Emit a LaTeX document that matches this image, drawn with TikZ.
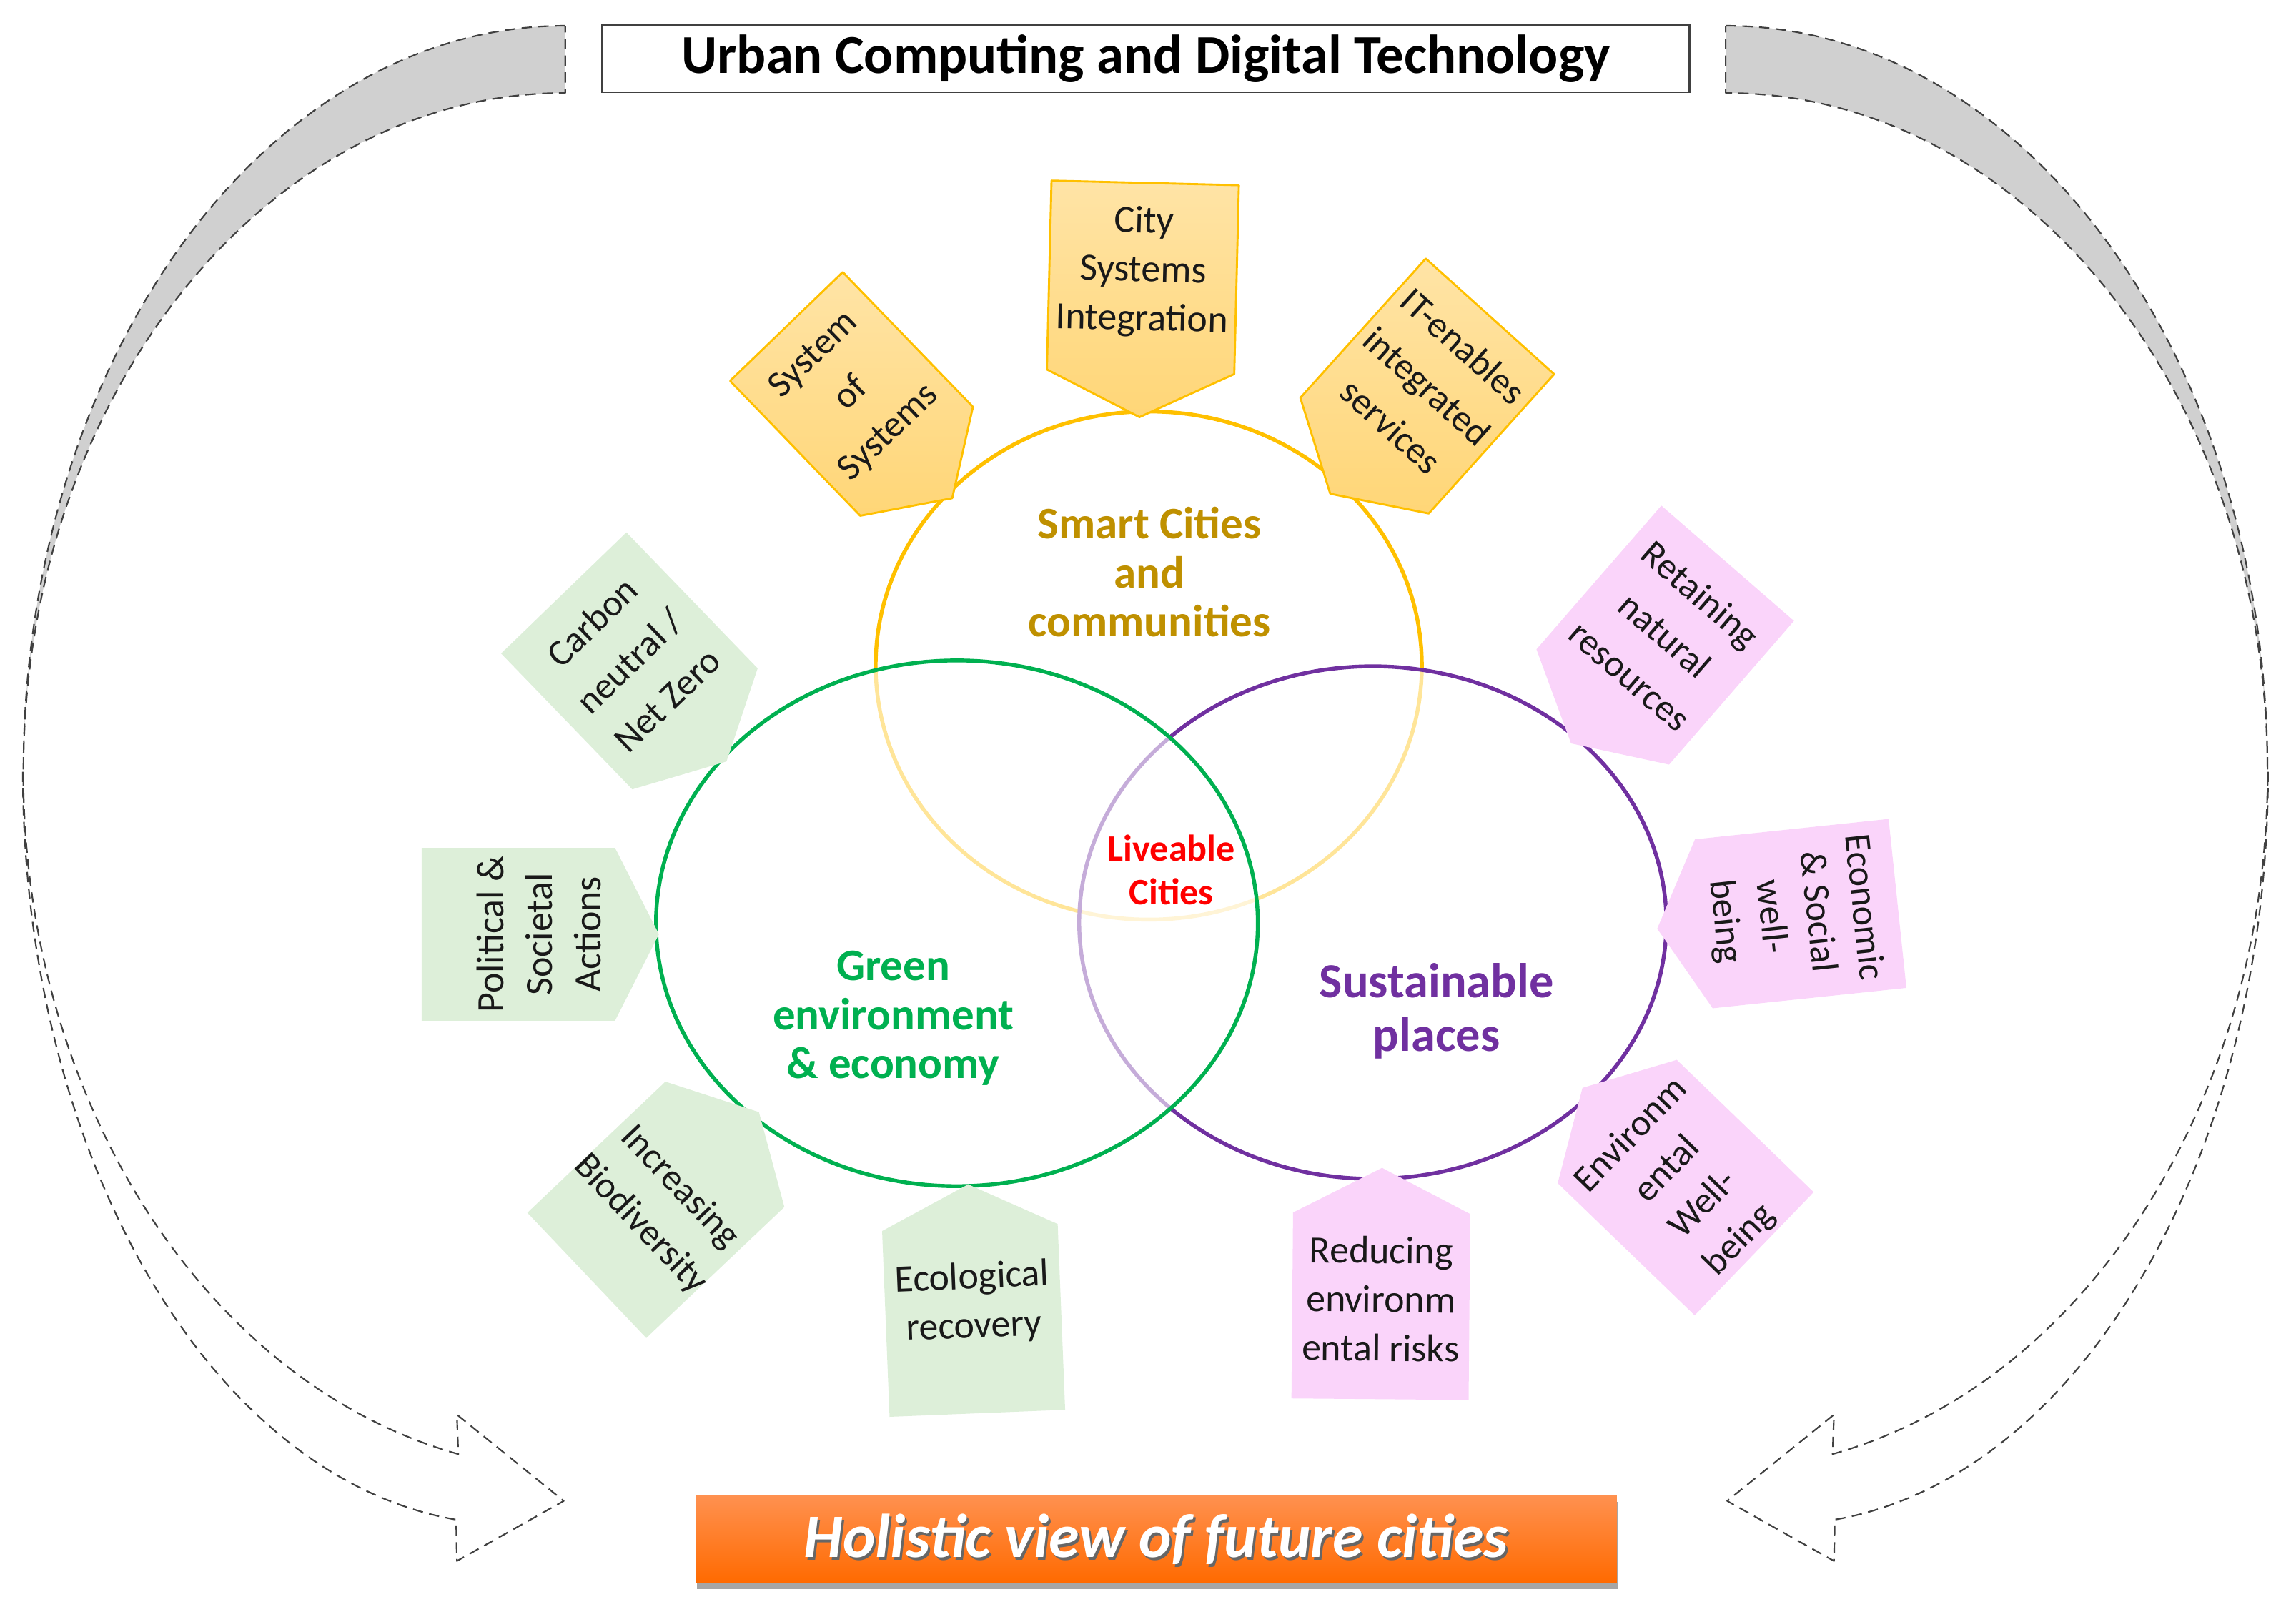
\documentclass[tikz,border=0pt]{standalone}
\usepackage{fontspec}
\setmainfont{Carlito}
\usetikzlibrary{shadows}

\definecolor{smartc}{HTML}{FFC000}
\definecolor{smartt}{HTML}{BF9000}
\definecolor{greenc}{HTML}{00B050}
\definecolor{purplec}{HTML}{7030A0}
\definecolor{ytagtop}{HTML}{FFE4A6}
\definecolor{ytagf}{HTML}{FFD677}
\definecolor{gtagf}{HTML}{DDEFD9}
\definecolor{ptagf}{HTML}{FAD4FA}
\definecolor{bandgrey}{HTML}{D0D0D0}
\definecolor{orangetop}{HTML}{FF9150}
\definecolor{orangebot}{HTML}{FF6A00}

\begin{document}
\begin{tikzpicture}[x=0.02cm, y=-0.02cm,
	band/.style = {draw=black!75, line width=0.6pt, dash pattern=on 4pt off 2.5pt, line join=round},
	ring/.style = {line width=1.5pt},
	ytag/.style = {top color=ytagtop, bottom color=ytagf, draw=smartc, line width=0.8pt, line join=round},
	gtag/.style = {fill=gtagf},
	ptag/.style = {fill=ptagf},
	tx/.style = {align=center, inner sep=0pt, text=black!90, transform shape, font=\fontsize{15}{19}\selectfont},
	txr/.style = {tx, font=\fontsize{14.5}{21}\selectfont},
	ct/.style = {align=center, inner sep=0pt, font=\bfseries\fontsize{17.5}{19}\selectfont},
	title/.style = {draw=black!75, line width=0.8pt, fill=white, minimum width=14.86cm, minimum height=0.92cm, font=\bfseries\fontsize{21.3}{25}\selectfont},
	holi/.style = {top color=orangetop, bottom color=orangebot, minimum width=12.58cm, minimum height=1.2cm, drop shadow={shadow xshift=0.5pt, shadow yshift=-2.5pt, opacity=0.35, fill=black}}
	]

	\useasboundingbox (0,0) rectangle (1568,1097);

	%Curved arrows
	\path[band, fill=bandgrey] (386,17.6) arc[start angle=270, end angle=180, x radius=370, y radius=509.4]
		arc[start angle=180, end angle=270, x radius=370, y radius=463.5] -- cycle;
	\path[band, fill=white] (15.6,527) arc[start angle=180, end angle=96.4, x radius=333, y radius=514]
		-- (312,1066) -- (385,1025) -- (312,966) -- (313,993)
		arc[start angle=102.6, end angle=180, x radius=380, y radius=478] -- cycle;
	\begin{scope}[shift={(1564.5,0)}, xscale=-1]
		\path[band, fill=bandgrey] (386,17.6) arc[start angle=270, end angle=180, x radius=370, y radius=509.4]
			arc[start angle=180, end angle=270, x radius=370, y radius=463.5] -- cycle;
		\path[band, fill=white] (15.6,527) arc[start angle=180, end angle=96.4, x radius=333, y radius=514]
			-- (312,1066) -- (385,1025) -- (312,966) -- (313,993)
			arc[start angle=102.6, end angle=180, x radius=380, y radius=478] -- cycle;
	\end{scope}

	\node[title]	(title)		at	(782.5,40)	{Urban Computing and Digital Technology};

	%Circles
	\draw[smartc, ring]	(784.5,454.5) ellipse [x radius=186.5, y radius=173.5];
	\draw[purplec, ring, fill=white, fill opacity=0.6]	(937.5,630) ellipse [x radius=200.5, y radius=175];
	\draw[greenc, ring, fill=white, fill opacity=0.6]	(653.5,630.5) ellipse [x radius=205.5, y radius=179.5];

	%Tags
	\begin{scope}[shift={(780.5,189.4)}, rotate=-1.4]
		\filldraw[ytag] (-64,-64.5) -- (64,-64.5) -- (64,64.5) -- (0,95.5) -- (-64,64.5) -- cycle;
		\node[tx]	(csi)	at	(0,-4)	{City\\Systems\\Integration};
	\end{scope}
	\begin{scope}[shift={(581.5,269)}, rotate=44]
		\filldraw[ytag] (-53.5,-64) -- (53.5,-64) -- (53.5,64) -- (0,99) -- (-53.5,64) -- cycle;
		\node[txr]	(sos)	at	(0,0)	{System\\of\\Systems};
	\end{scope}
	\begin{scope}[shift={(974.7,263.6)}, rotate=-42]
		\filldraw[ytag] (-59,-64) -- (59,-64) -- (59,64) -- (0,99) -- (-59,64) -- cycle;
		\node[txr]	(ite)	at	(0,0)	{IT-enables\\integrated\\services};
	\end{scope}
	\begin{scope}[shift={(429.8,451.3)}, rotate=44]
		\fill[gtag] (-59.5,-64.5) -- (59.5,-64.5) -- (59.5,64.5) -- (0,95.5) -- (-59.5,64.5) -- cycle;
		\node[txr]	(cnz)	at	(0,0)	{Carbon\\neutral /\\Net Zero};
	\end{scope}
	\begin{scope}[shift={(354,638)}, rotate=90]
		\fill[gtag] (-59,-66) -- (59,-66) -- (59,66) -- (0,96) -- (-59,66) -- cycle;
		\node[tx]	(psa)	at	(0,14)	{Political \&\\Societal\\Actions};
	\end{scope}
	\begin{scope}[shift={(447.9,826.2)}, rotate=-46.5]
		\fill[gtag] (-59,65) -- (59,65) -- (59,-65) -- (0,-97) -- (-59,-65) -- cycle;
		\node[txr]	(ib)	at	(0,-4)	{Increasing\\Biodiversity};
	\end{scope}
	\begin{scope}[shift={(664.9,901.7)}, rotate=2.3]
		\fill[gtag] (-60,63.5) -- (60,63.5) -- (60,-63.5) -- (0,-93) -- (-60,-63.5) -- cycle;
		\node[tx]	(er)	at	(0,-12)	{Ecological\\recovery};
	\end{scope}
	\begin{scope}[shift={(943,892)}, rotate=-0.5]
		\fill[ptag] (-60.5,63.5) -- (60.5,63.5) -- (60.5,-63.5) -- (0,-94.5) -- (-60.5,-63.5) -- cycle;
		\node[tx]	(rer)	at	(0,-5)	{Reducing\\environm\\ental risks};
	\end{scope}
	\begin{scope}[shift={(1151.2,811)}, rotate=46]
		\fill[ptag] (-58.5,65) -- (58.5,65) -- (58.5,-65) -- (0,-98) -- (-58.5,-65) -- cycle;
		\node[txr, font=\fontsize{14.5}{19.5}\selectfont]	(ewb)	at	(0,0)	{Environm\\ental\\Well-\\being};
	\end{scope}
	\begin{scope}[shift={(1229.7,623.9)}, rotate=-84]
		\fill[ptag] (-58,-66.5) -- (58,-66.5) -- (58,66.5) -- (0,98.5) -- (-58,66.5) -- cycle;
		\node[tx, font=\fontsize{14.5}{18}\selectfont]	(esw)	at	(0,5)	{Economic\\\& Social\\well-\\being};
	\end{scope}
	\begin{scope}[shift={(1137.2,433.7)}, rotate=-41]
		\fill[ptag] (-60,-65) -- (60,-65) -- (60,65) -- (0,98) -- (-60,65) -- cycle;
		\node[txr]	(rnr)	at	(0,0)	{Retaining\\natural\\resources};
	\end{scope}

	%Circle labels
	\node[ct, text=smartt]	(smart)	at	(785,390.7)	{Smart Cities\\and\\communities};
	\node[ct, text=greenc]	(green)	at	(610,695.3)	{Green\\environment\\\& economy};
	\node[ct, text=purplec, font=\bfseries\fontsize{19}{21}\selectfont]	(sust)	at	(981,690.5)	{Sustainable\\places};
	\node[ct, text=red, font=\bfseries\fontsize{14.5}{17}\selectfont]	(live)	at	(800,594)	{Liveable\\Cities};

	%Bottom box
	\node[holi]	(holistic)	at	(789.5,1051)	{};
	\node[text=black!60, font=\bfseries\itshape\fontsize{24}{28}\selectfont]	(holishadow)	at	(791,1053)	{Holistic view of future cities};
	\node[text=white, font=\bfseries\itshape\fontsize{24}{28}\selectfont]	(holitext)	at	(holistic)	{Holistic view of future cities};
\end{tikzpicture}
\end{document}
